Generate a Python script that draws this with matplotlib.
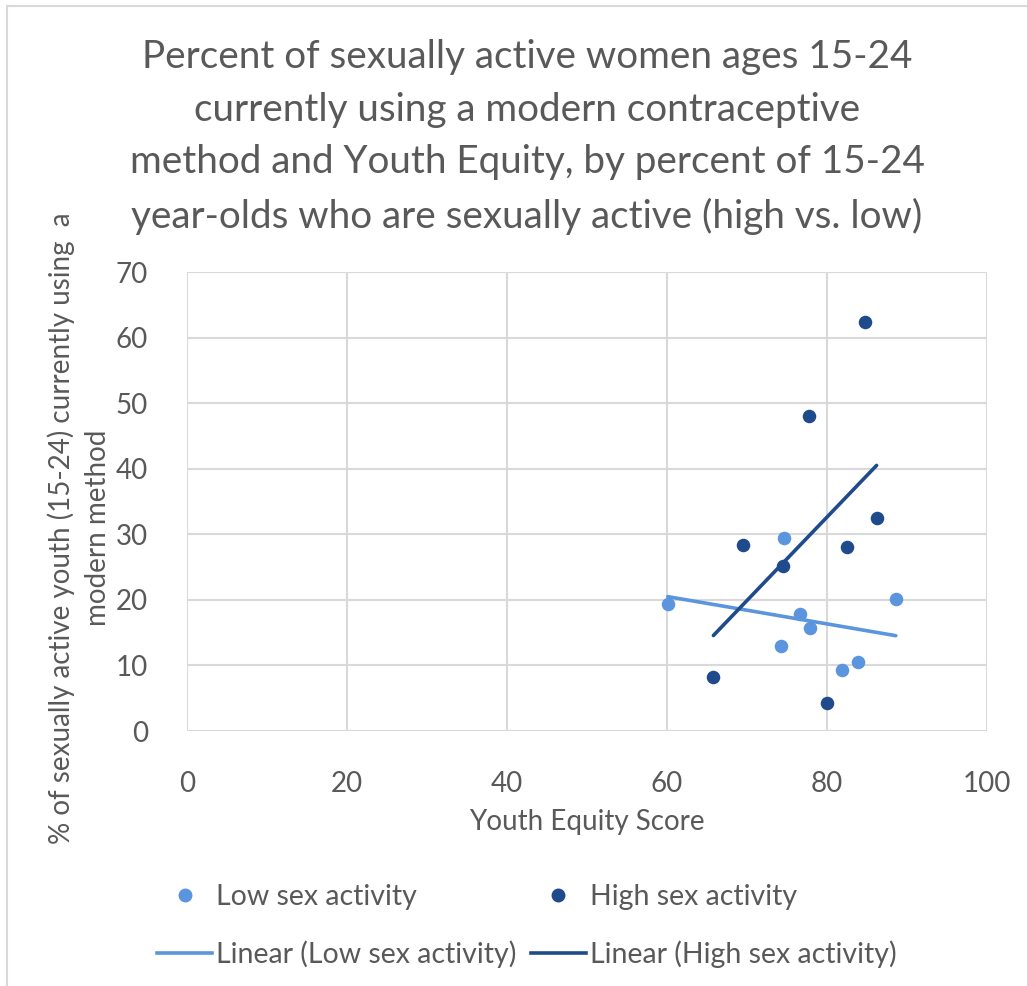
import numpy as np
import matplotlib
matplotlib.use("Agg")
import matplotlib.pyplot as plt
from matplotlib.lines import Line2D

plt.rcParams['font.family'] = ['Lato', 'DejaVu Sans']

# Youth Equity Score vs % using a modern method
low_x = [60.1, 74.6, 88.6, 76.6, 77.9, 74.2, 83.9, 81.9]
low_y = [19.4, 29.4, 20.2, 17.9, 15.7, 12.9, 10.5, 9.3]
high_x = [84.8, 77.7, 86.2, 69.5, 82.5, 74.5, 65.8, 80.0]
high_y = [62.3, 48.0, 32.5, 28.3, 28.1, 25.2, 8.2, 4.2]

x_ticks = [0, 20, 40, 60, 80, 100]
y_ticks = [0, 10, 20, 30, 40, 50, 60, 70]

LIGHT = "#5A95DE"
DARK = "#1F4B8C"
TEXT = "#595959"
GRID = "#D9D9D9"

W, H = 1027, 986
fig = plt.figure(figsize=(W / 100, H / 100), dpi=100)
ax = fig.add_axes([187 / W, 1 - 731 / H, 800 / W, 459 / H])

ax.scatter(low_x, low_y, s=95, color=LIGHT, zorder=3, linewidths=0)
ax.scatter(high_x, high_y, s=95, color=DARK, zorder=3, linewidths=0)

# least-squares trend lines spanning each series' x range
for xs, ys, c in [(low_x, low_y, LIGHT), (high_x, high_y, DARK)]:
    k, b = np.polyfit(xs, ys, 1)
    xr = np.array([min(xs), max(xs)])
    ax.plot(xr, k * xr + b, color=c, lw=2.6, solid_capstyle='round', zorder=2)

ax.set_xlim(0, 100)
ax.set_ylim(0, 70)
ax.set_xticks(x_ticks)
ax.set_yticks(y_ticks)
ax.grid(True, color=GRID, lw=1.5)
ax.set_axisbelow(True)
for s in ax.spines.values():
    s.set_visible(False)
ax.tick_params(axis='y', length=0, labelsize=20, colors=TEXT, pad=28)
ax.tick_params(axis='x', length=0, labelsize=20, colors=TEXT, pad=29)

fig.text(587 / W, 1 - 822 / H, "Youth Equity Score", ha='center', va='center',
         fontsize=20, color=TEXT)
fig.text(79 / W, 1 - 528 / H,
         "% of sexually active youth (15-24) currently using  a\nmodern method",
         rotation=90, ha='center', va='center', multialignment='center',
         fontsize=20, color=TEXT, linespacing=1.45)

fig.text(527 / W, 1 - 137 / H,
         "Percent of sexually active women ages 15-24\n"
         "currently using a modern contraceptive\n"
         "method and Youth Equity, by percent of 15-24\n"
         "year-olds who are sexually active (high vs. low)",
         ha='center', va='center', fontsize=27.8, color=TEXT, linespacing=1.58)

handles = [
    Line2D([], [], marker='o', ls='none', color=LIGHT, markersize=9),
    Line2D([], [], color=LIGHT, lw=2.6),
    Line2D([], [], marker='o', ls='none', color=DARK, markersize=9),
    Line2D([], [], color=DARK, lw=2.6),
]
labels = ["Low sex activity", "Linear (Low sex activity)",
          "High sex activity", "Linear (High sex activity)"]
leg = fig.legend(handles, labels, ncol=2, loc='center',
                 bbox_to_anchor=(527 / W, 1 - 926 / H), frameon=False,
                 fontsize=20.5, handlelength=1.93, handletextpad=0.14,
                 columnspacing=0.5, labelspacing=1.1, labelcolor=TEXT)

# chart area border (left and top edges)
fig.add_artist(Line2D([7 / W, 7 / W], [0, 1 - 6 / H], transform=fig.transFigure,
                      color=GRID, lw=1.5))
fig.add_artist(Line2D([7 / W, 1], [1 - 6 / H, 1 - 6 / H], transform=fig.transFigure,
                      color=GRID, lw=1.5))

fig.savefig("out.png", dpi=100, facecolor='white')
